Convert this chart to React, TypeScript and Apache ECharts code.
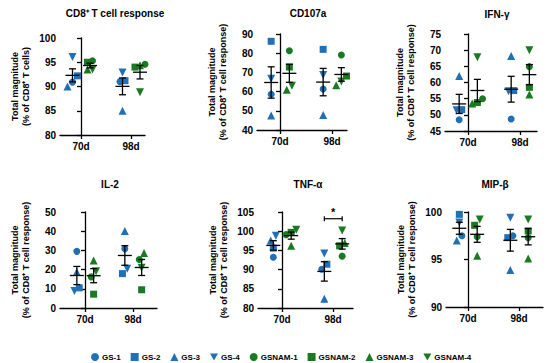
import React, { useEffect, useRef } from "react";
import * as echarts from "echarts";

const timepoints = ["70d", "98d"];
const gsSubjects = ["GS-1", "GS-2", "GS-3", "GS-4"];
const gsnamSubjects = ["GSNAM-1", "GSNAM-2", "GSNAM-3", "GSNAM-4"];
const panelTitles = ["CD8⁺ T cell response", "CD107a", "IFN-γ", "IL-2", "TNF-α", "MIP-β"];
const yAxisNames = [
  "Total magnitude\n(% of CD8⁺ T cells)",
  "Total magnitude\n(% of CD8⁺ T cell response)",
  "Total magnitude\n(% of CD8⁺ T cell response)",
  "Total magnitude\n(% of CD8⁺ T cell response)",
  "Total magnitude\n(% of CD8⁺ T cell response)",
  "Total magnitude\n(% of CD8⁺ T cell response)",
];
const yMin = [80, 40, 45, 0, 80, 90];
const yMax = [100, 90, 75, 50, 105, 100];
const yInterval = [5, 10, 5, 10, 5, 5];

// values [timepoint][subject 1..4]
const cd8GS = [[90.9, 92.2, 90.0, 96.1], [91.0, 91.2, 85.0, 92.9]];
const cd8GSNAM = [[95.3, 95.0, 93.5, 93.5], [94.6, 94.0, 94.4, 88.8]];
const cd107aGS = [[58.6, 86.2, 47.5, 66.7], [61.4, 82.0, 47.8, 68.6]];
const cd107aGSNAM = [[81.3, 72.8, 60.9, 63.1], [79.1, 68.1, 63.3, 65.2]];
const ifngGS = [[48.5, 51.6, 62.0, 51.4], [48.7, 57.5, 68.2, 57.3]];
const ifngGSNAM = [[55.0, 53.8, 53.5, 67.8], [64.9, 58.5, 56.3, 70.0]];
const il2GS = [[29.5, 10.5, 18.8, 8.9], [30.9, 17.9, 40.1, 20.5]];
const il2GSNAM = [[16.2, 7.2, 24.8, 19.1], [25.3, 9.5, 28.6, 21.0]];
const tnfaGS = [[93.2, 95.6, 97.6, 98.8], [90.1, 91.4, 82.4, 94.2]];
const tnfaGSNAM = [[99.1, 99.7, 96.2, 100.4], [93.5, 96.2, 96.9, 100.2]];
const mipbGS = [[97.5, 99.75, 97.0, 98.9], [97.5, 97.3, 93.9, 99.4]];
const mipbGSNAM = [[97.4, 98.6, 95.4, 99.2], [97.3, 98.0, 95.1, 99.2]];

const panelGS = [cd8GS, cd107aGS, ifngGS, il2GS, tnfaGS, mipbGS];
const panelGSNAM = [cd8GSNAM, cd107aGSNAM, ifngGSNAM, il2GSNAM, tnfaGSNAM, mipbGSNAM];

// significance: panel index, timepoint index, label
const significance = [{ panel: 4, time: 1, label: "*" }];

// layout (pixels)
const layout = [
  { left: 60, top: 38, bottom: 135, x70: 81, x98: 131, right: 145, titleX: 110, titleY: 3 },
  { left: 257, top: 34, bottom: 130, x70: 280, x98: 332, right: 347, titleX: 303, titleY: 3 },
  { left: 445, top: 34, bottom: 131, x70: 468, x98: 520, right: 537, titleX: 492, titleY: 4 },
  { left: 60, top: 212, bottom: 308, x70: 85, x98: 133, right: 157, titleX: 105, titleY: 174 },
  { left: 258, top: 212, bottom: 308, x70: 282, x98: 333, right: 353, titleX: 303, titleY: 174 },
  { left: 446, top: 212, bottom: 307, x70: 468, x98: 519, right: 543, titleX: 490, titleY: 174 },
];

const BLUE = "#2170b6";
const GREEN = "#1a7a22";
const FONT = '"Liberation Sans", Arial, sans-serif';
const symbols = ["circle", "rect", "triangle", "path://M0,0L10,0L5,9Z"];
const symbolSizes = [7, 7, 8, 8];
const GROUP_OFF = [-0.17, 0.18];
const JITTER = 0.1;

function meanSem(v: number[]) {
  const n = v.length;
  const m = v.reduce((a, b) => a + b, 0) / n;
  const sd = Math.sqrt(v.reduce((a, b) => a + (b - m) * (b - m), 0) / (n - 1));
  return [m, sd / Math.sqrt(n)];
}

// simple beeswarm spread: points close in y are placed side by side
function jitter(v: number[], range: number) {
  const idx = v.map((_, i) => i).sort((a, b) => v[a] - v[b]);
  const off = new Array(v.length).fill(0);
  let cluster: number[] = [idx[0]];
  const flush = () => {
    const n = cluster.length;
    cluster.forEach((k, i) => (off[k] = (i - (n - 1) / 2) * JITTER));
  };
  for (let i = 1; i < idx.length; i++) {
    if ((v[idx[i]] - v[idx[i - 1]]) / range < 0.07) cluster.push(idx[i]);
    else {
      flush();
      cluster = [idx[i]];
    }
  }
  flush();
  return off;
}

function buildOption() {
  const grids: any[] = [];
  const xAxes: any[] = [];
  const yAxes: any[] = [];
  const titles: any[] = [];
  const series: any[] = [];

  layout.forEach((L, p) => {
    const unit = L.x98 - L.x70;
    grids.push({
      left: L.left,
      top: L.top,
      width: L.right - L.left,
      height: L.bottom - L.top,
      outerBoundsMode: "none",
      containLabel: false,
    });
    xAxes.push({
      type: "value",
      gridIndex: p,
      min: -(L.x70 - L.left) / unit,
      max: 1 + (L.right - L.x98) / unit,
      splitLine: { show: false },
      axisLine: { lineStyle: { color: "#000", width: 1.3 } },
      axisTick: { show: true, customValues: [0, 1], length: 4, lineStyle: { color: "#000", width: 1.3 } },
      axisLabel: {
        customValues: [0, 1],
        formatter: (v: number) => timepoints[Math.round(v)],
        color: "#000",
        fontWeight: "bold",
        fontSize: 10,
        fontFamily: FONT,
        margin: 6,
      },
    });
    yAxes.push({
      type: "value",
      gridIndex: p,
      min: yMin[p],
      max: yMax[p],
      interval: yInterval[p],
      splitLine: { show: false },
      axisLine: { show: true, lineStyle: { color: "#000", width: 1.3 } },
      axisTick: { show: true, length: 4, lineStyle: { color: "#000", width: 1.3 } },
      axisLabel: { color: "#000", fontWeight: "bold", fontSize: 10, fontFamily: FONT, margin: 4 },
      name: yAxisNames[p],
      nameLocation: "middle",
      nameGap: 29,
      nameTextStyle: { color: "#000", fontWeight: "bold", fontSize: 9, lineHeight: 11, fontFamily: FONT },
    });
    titles.push({
      text: panelTitles[p],
      left: L.titleX,
      top: L.titleY,
      textAlign: "center",
      textStyle: { color: "#000", fontWeight: "bold", fontSize: 10, fontFamily: FONT },
    });

    const range = yMax[p] - yMin[p];
    const groups = [
      { data: panelGS[p], names: gsSubjects, color: BLUE, g: 0 },
      { data: panelGSNAM[p], names: gsnamSubjects, color: GREEN, g: 1 },
    ];
    const summary: number[][] = [];
    groups.forEach((G) => {
      const offs = G.data.map((vals) => jitter(vals, range));
      G.names.forEach((name, s) => {
        series.push({
          type: "scatter",
          name,
          xAxisIndex: p,
          yAxisIndex: p,
          symbol: symbols[s],
          symbolSize: symbolSizes[s],
          itemStyle: { color: G.color, opacity: 1 },
          z: 2,
          data: G.data.map((vals, t) => [t + GROUP_OFF[G.g] + offs[t][s], vals[s]]),
        });
      });
      G.data.forEach((vals, t) => {
        const [m, se] = meanSem(vals);
        summary.push([t + GROUP_OFF[G.g], m, se]);
      });
    });
    series.push({
      type: "custom",
      xAxisIndex: p,
      yAxisIndex: p,
      z: 5,
      clip: false,
      encode: { x: 0, y: 1 },
      data: summary,
      renderItem: (params: any, api: any) => {
        const x = api.value(0);
        const m = api.value(1);
        const se = api.value(2);
        const c = api.coord([x, m]);
        const top = api.coord([x, m + se]);
        const bot = api.coord([x, m - se]);
        const st = { stroke: "#000", lineWidth: 1.3 };
        const hw = 7;
        const cw = 3.5;
        return {
          type: "group",
          children: [
            { type: "line", shape: { x1: c[0] - hw, y1: c[1], x2: c[0] + hw, y2: c[1] }, style: st },
            { type: "line", shape: { x1: c[0], y1: top[1], x2: c[0], y2: bot[1] }, style: st },
            { type: "line", shape: { x1: c[0] - cw, y1: top[1], x2: c[0] + cw, y2: top[1] }, style: st },
            { type: "line", shape: { x1: c[0] - cw, y1: bot[1], x2: c[0] + cw, y2: bot[1] }, style: st },
          ],
        };
      },
    });
  });

  significance.forEach((S) => {
    const top = yMax[S.panel] - (yMax[S.panel] - yMin[S.panel]) * 0.07;
    series.push({
      type: "custom",
      xAxisIndex: S.panel,
      yAxisIndex: S.panel,
      z: 5,
      clip: false,
      encode: { x: 0, y: 2 },
      data: [[S.time + GROUP_OFF[0], S.time + GROUP_OFF[1], top]],
      renderItem: (params: any, api: any) => {
        const a = api.coord([api.value(0), api.value(2)]);
        const b = api.coord([api.value(1), api.value(2)]);
        const st = { stroke: "#000", lineWidth: 1.2 };
        return {
          type: "group",
          children: [
            { type: "line", shape: { x1: a[0], y1: a[1], x2: b[0], y2: b[1] }, style: st },
            { type: "line", shape: { x1: a[0], y1: a[1] - 2.5, x2: a[0], y2: a[1] + 2.5 }, style: st },
            { type: "line", shape: { x1: b[0], y1: b[1] - 2.5, x2: b[0], y2: b[1] + 2.5 }, style: st },
            {
              type: "text",
              x: (a[0] + b[0]) / 2,
              y: a[1] - 1,
              style: {
                text: S.label,
                fill: "#000",
                font: `bold 11px ${FONT}`,
                textAlign: "center",
                textVerticalAlign: "bottom",
              },
            },
          ],
        };
      },
    });
  });

  return {
    animation: false,
    backgroundColor: "#fff",
    title: titles,
    grid: grids,
    xAxis: xAxes,
    yAxis: yAxes,
    legend: {
      data: [...gsSubjects, ...gsnamSubjects],
      left: 86,
      top: 348,
      itemWidth: 8,
      itemHeight: 8,
      itemGap: 10,
      textStyle: { color: "#000", fontWeight: "bold", fontSize: 8, fontFamily: FONT, padding: [0, 0, 0, -2] },
      selectedMode: false,
    },
    series,
  };
}

export default function App() {
  const ref = useRef<HTMLDivElement>(null);
  useEffect(() => {
    if (!ref.current) return;
    const chart = echarts.init(ref.current, null, { renderer: "svg" });
    chart.setOption(buildOption() as any);
    return () => chart.dispose();
  }, []);
  return (
    <div
      ref={ref}
      style={{ position: "fixed", left: 0, top: 0, width: 550, height: 363, background: "#fff" }}
    />
  );
}
